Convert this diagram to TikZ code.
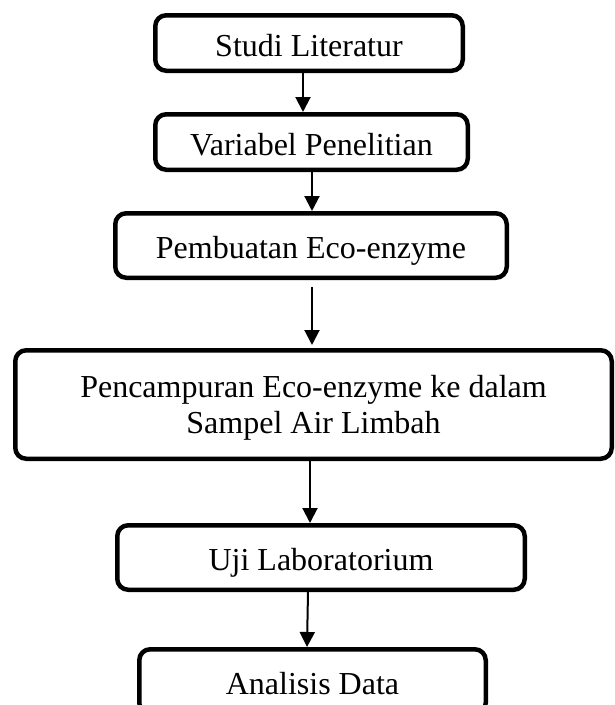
\documentclass[tikz,border=0pt]{standalone}
\usepackage{fontspec}
\setmainfont{Liberation Serif}
\usetikzlibrary{arrows.meta}

\begin{document}
\begin{tikzpicture}[x=1pt,y=-1pt,
    box/.style={draw,line width=4.5pt,rounded corners=11pt,inner sep=0pt,
      font=\fontsize{32}{36}\selectfont,text height=26pt,text depth=0pt},
    bigbox/.style={draw,line width=4.5pt,rounded corners=11pt,inner sep=0pt,
      font=\fontsize{32}{36}\selectfont,text depth=0pt,align=center},
    arrow/.style={line width=2pt,-{Triangle[length=15pt,width=15pt]}}]
  \useasboundingbox (0,0) rectangle (614,705);
  \node[box,minimum width=307.5pt,minimum height=55.5pt] (studi) at (309,43) {Studi Literatur};
  \node[box,minimum width=312.5pt,minimum height=55.5pt] (variabel) at (311.5,142) {Variabel Penelitian};
  \node[box,minimum width=391.5pt,minimum height=64.5pt] (pembuatan) at (311,245.5) {Pembuatan Eco-enzyme};
  \node[bigbox,minimum width=596.5pt,minimum height=108.5pt] (pencampuran) at (313.5,404.5) {Pencampuran Eco-enzyme ke dalam\\Sampel Air Limbah};
  \node[box,minimum width=407.5pt,minimum height=64.5pt] (uji) at (321,557.5) {Uji Laboratorium};
  \node[box,minimum width=346.5pt,minimum height=64.5pt] (analisis) at (312.5,681.5) {Analisis Data};
  \draw[arrow] ([xshift=-6pt]studi.south) -- ([xshift=-8.5pt]variabel.north);
  \draw[arrow] ([xshift=0.5pt]variabel.south) -- ([xshift=1pt]pembuatan.north);
  \draw[arrow] ([xshift=1pt,yshift=-7pt]pembuatan.south) -- ([xshift=-1.5pt,yshift=3pt]pencampuran.north);
  \draw[arrow] ([xshift=-3.5pt]pencampuran.south) -- ([xshift=-11pt]uji.north);
  \draw[arrow] ([xshift=-13pt]uji.south) -- ([xshift=-5.5pt]analisis.north);
\end{tikzpicture}
\end{document}
